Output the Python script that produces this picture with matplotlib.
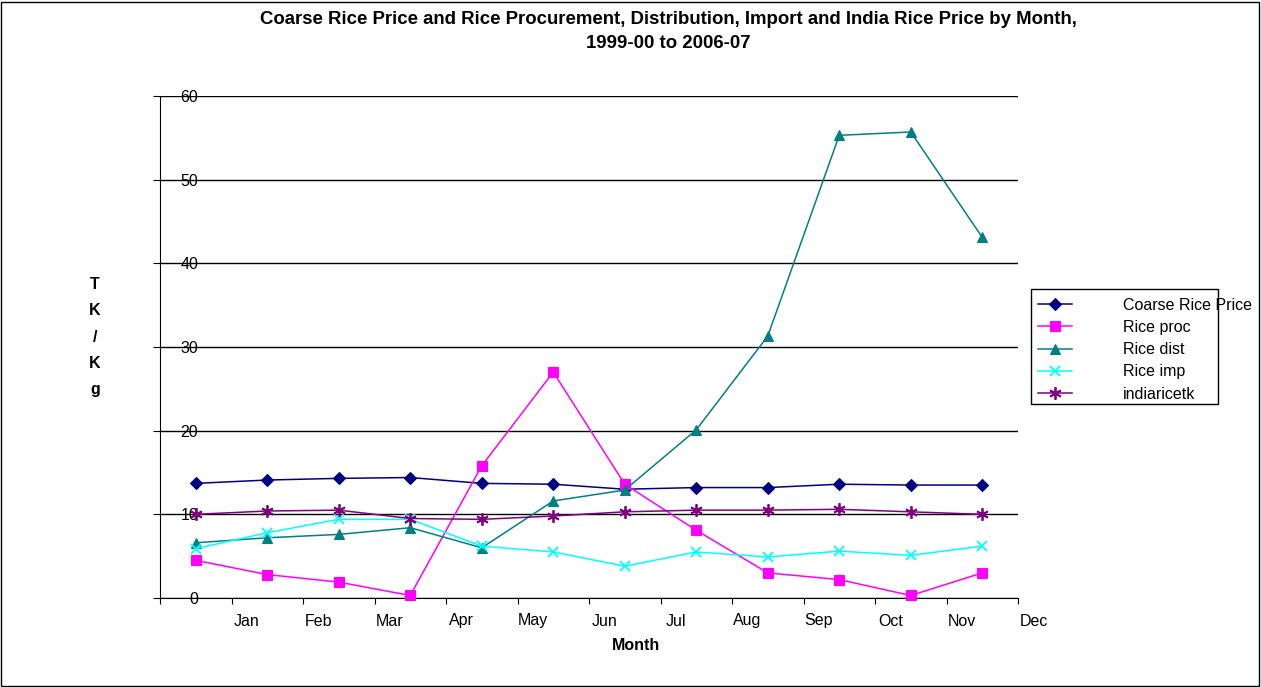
import matplotlib
matplotlib.use("Agg")
import matplotlib.pyplot as plt
from matplotlib.patches import Rectangle
import matplotlib.transforms as mtransforms

plt.rcParams['font.family'] = ['Liberation Sans', 'DejaVu Sans']

months = ["Jan", "Feb", "Mar", "Apr", "May", "Jun", "Jul", "Aug", "Sep", "Oct", "Nov", "Dec"]
coarse_rice_price = [13.7, 14.1, 14.3, 14.4, 13.7, 13.6, 13.0, 13.2, 13.2, 13.6, 13.5, 13.5]
rice_proc = [4.5, 2.8, 1.9, 0.3, 15.8, 27.0, 13.6, 8.1, 3.0, 2.2, 0.3, 3.0]
rice_dist = [6.6, 7.2, 7.6, 8.4, 6.0, 11.6, 12.9, 20.1, 31.3, 55.3, 55.7, 43.1]
rice_imp = [5.9, 7.8, 9.4, 9.4, 6.2, 5.5, 3.8, 5.5, 4.9, 5.6, 5.1, 6.2]
indiaricetk = [10.0, 10.4, 10.5, 9.5, 9.4, 9.8, 10.3, 10.5, 10.5, 10.6, 10.3, 10.0]
y_ticks = [0, 10, 20, 30, 40, 50, 60]

series = [
    ("Coarse Rice Price", coarse_rice_price, "#000080", "D", 6),
    ("Rice proc", rice_proc, "#FF00FF", "s", 7),
    ("Rice dist", rice_dist, "#008080", "^", 7),
    ("Rice imp", rice_imp, "#00FFFF", "x", 7),
    ("indiaricetk", indiaricetk, "#800080", (6, 2, 0), 9),
]

W, H = 1261, 687
FS = 11.5
fig = plt.figure(figsize=(W / 100, H / 100), dpi=100)
ax = fig.add_axes([160 / W, (H - 598) / H, 858 / W, 502 / H])

x = list(range(len(months)))
handles = []
for name, vals, color, marker, ms in series:
    (ln,) = ax.plot(x, vals, color=color, marker=marker, markersize=ms, linewidth=1.1,
                    markeredgewidth=1.3 if marker in ("x", (6, 2, 0)) else 0.8,
                    markerfacecolor=color, markeredgecolor=color, label=name, clip_on=False, zorder=3)
    handles.append(ln)

ax.set_xlim(-0.5, 11.5)
ax.set_ylim(0, 60)
ax.set_yticks(y_ticks)
ax.set_yticklabels([str(v) for v in y_ticks], fontsize=FS)
ax.yaxis.grid(True, color="black", linewidth=1.0)
ax.set_axisbelow(True)
for s in ("top", "right"):
    ax.spines[s].set_visible(False)
ax.tick_params(axis="y", length=5, direction="out", pad=-32.5, labelsize=FS)
for lab in ax.get_yticklabels():
    lab.set_horizontalalignment("right")

# x ticks at category boundaries, labels offset as in the reference
ax.set_xticks([k - 0.5 for k in range(13)])
ax.set_xticklabels([])
ax.tick_params(axis="x", length=4, direction="out")
trans = mtransforms.blended_transform_factory(ax.transData, ax.transAxes)
for k, m in enumerate(months):
    ax.text(k + 0.717, -23 / 502, m, transform=trans, ha="center", va="center", fontsize=FS, clip_on=False)

ax.text(0.555, -48 / 502, "Month", transform=ax.transAxes, ha="center", va="center",
        fontsize=FS, fontweight="bold")
fig.text(95 / W, 1 - 337 / H, "T\nK\n/\nK\ng", ha="center", va="center", fontsize=FS,
         fontweight="bold", linespacing=1.92)

fig.text(668 / W, 1 - 19 / H,
         "Coarse Rice Price and Rice Procurement, Distribution, Import and India Rice Price by Month,",
         ha="center", va="center", fontsize=13.4, fontweight="bold")
fig.text(668 / W, 1 - 43 / H, "1999-00 to 2006-07", ha="center", va="center", fontsize=13.4, fontweight="bold")

# legend
fig.add_artist(Rectangle((1031 / W, 1 - 404 / H), (1218 - 1031) / W, (404 - 289) / H,
                         transform=fig.transFigure, fill=False, edgecolor="black", linewidth=1.0))
leg = fig.legend(handles=handles, loc="upper left", bbox_to_anchor=(1033 / W, 1 - 293 / H),
                 frameon=False, fontsize=FS, handlelength=2.15, handletextpad=3.2,
                 labelspacing=0.45, borderpad=0.3, borderaxespad=0)

# outer border
fig.add_artist(Rectangle((1.5 / W, 1.5 / H), (W - 3.5) / W, (H - 3.5) / H, transform=fig.transFigure,
                         fill=False, edgecolor="black", linewidth=1.0))

fig.savefig("out.png", dpi=100)
